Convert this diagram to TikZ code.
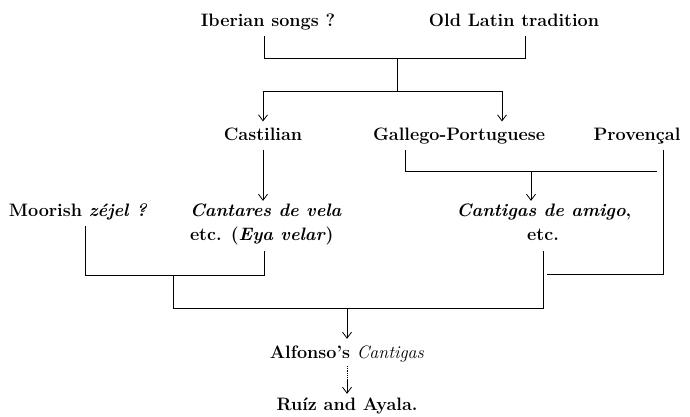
\documentclass[tikz,border=0pt]{standalone}
\usetikzlibrary{arrows.meta}
\begin{document}
\begin{tikzpicture}[x=1pt,y=-1pt,
  lbl/.style={font=\fontsize{18}{22}\selectfont\bfseries, inner sep=0pt, outer sep=0pt, anchor=base},
  ln/.style={line width=0.8pt},
  arr/.style={ln, -{Straight Barb[length=6pt,width=9pt]}}]
\useasboundingbox (0,0) rectangle (690,416);
% texts
\node[lbl] (ib) at (268,26) {Iberian songs ?};
\node[lbl] (ol) at (514,26) {Old Latin tradition};
\node[lbl] (ca) at (263,140) {Castilian};
\node[lbl] (gp) at (459,140) {Gallego-Portuguese};
\node[lbl] (pr) at (637,140) {Provençal};
\node[lbl] (mo) at (78,216) {Moorish \textit{zéjel ?}};
\node[lbl,anchor=base west] (cv1) at (190,216) {\textit{Cantares de vela}};
\node[lbl,anchor=base west] (cv2) at (190,240) {etc. (\textit{Eya velar})};
\node[lbl] (cg1) at (544,216) {\textit{Cantigas de amigo},};
\node[lbl] (cg2) at (543,240) {etc.};
\node[lbl] (al) at (347,358) {Alfonso’s \mdseries\textit{Cantigas}};
\node[lbl] (ru) at (347,410) {Ruíz and Ayala.};
% junctions
\coordinate (t1) at (264,58);
\coordinate (t2) at (525,58);
\coordinate (tm) at (397,58);
\coordinate (tb) at (397,91);
\coordinate (tl) at (263,91);
\coordinate (tr) at (502,91);
\coordinate (g1) at (405,171);
\coordinate (g2) at (657,171);
\coordinate (ga) at (531,171);
\coordinate (p1) at (547,274);
\coordinate (p2) at (663,274);
\coordinate (m1) at (85,275);
\coordinate (m2) at (264,275);
\coordinate (m3) at (173,275);
\coordinate (b1) at (173,308);
\coordinate (b2) at (543,308);
\coordinate (ba) at (347,308);
\coordinate (dm) at (347,380);
% connectors
\draw[ln] ([yshift=-10pt]ib.base -| t1) -- (t1) -- (t2) -- ([yshift=-10pt]ol.base -| t2);
\draw[ln] (tm) -- (tb);
\draw[ln] (tl) -- (tr);
\draw[arr] (tl) -- ([yshift=6pt]ca.north -| tl);
\draw[arr] (tr) -- ([yshift=6pt]gp.north -| tr);
\draw[arr] ([yshift=-10pt]ca.base) -- ([yshift=2.5pt]cv1.north -| ca.base);
\draw[ln] ([yshift=-10pt]gp.base -| g1) -- (g1) -- (g2);
\draw[arr] (ga) -- ([yshift=2.5pt]cg1.north -| ga);
\draw[ln] ([yshift=-10pt]pr.base -| p2) -- (p2) -- (p1);
\draw[ln] ([yshift=-10pt]mo.base -| m1) -- (m1) -- (m2) -- ([yshift=-11pt]cv2.base -| m2);
\draw[ln] (m3) -- (b1) -- (b2) -- ([yshift=-11pt]cg2.base -| b2);
\draw[arr] (ba) -- ([yshift=6.5pt]al.north);
\draw[ln,dash pattern=on 1.2pt off 1pt] ([yshift=-8pt]al.base) -- (dm);
\draw[arr] (dm) -- ([yshift=3.5pt]ru.north);
\end{tikzpicture}
\end{document}
